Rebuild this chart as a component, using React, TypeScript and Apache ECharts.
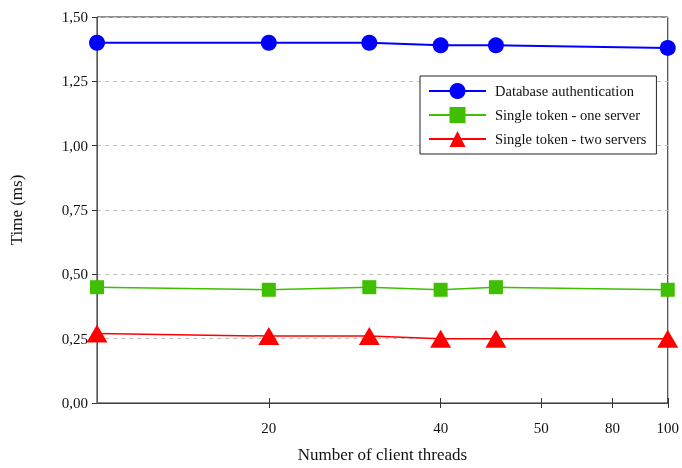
import React, { useEffect, useRef } from "react";
import * as echarts from "echarts";

const threads = [10, 20, 30, 40, 50, 100];
const dbAuth = [1.4, 1.4, 1.4, 1.39, 1.39, 1.38];
const oneServer = [0.45, 0.44, 0.45, 0.44, 0.45, 0.44];
const twoServers = [0.27, 0.26, 0.26, 0.25, 0.25, 0.25];
const xTickValues = [20, 40, 60, 80, 100];
const xTickLabels = ["20", "40", "50", "80", "100"];
const seriesNames = [
  "Database authentication",
  "Single token - one server",
  "Single token - two servers",
];

const FONT = "Liberation Serif";

export default function App() {
  const ref = useRef<HTMLDivElement>(null);
  useEffect(() => {
    const chart = echarts.init(ref.current!, null, {
      renderer: "svg",
      width: 682,
      height: 468,
    });
    const pair = (ys: number[]) => threads.map((x, i) => [x, ys[i]]);
    const baseX = {
      type: "log",
      logBase: 10,
      min: 10,
      max: 100,
      gridIndex: 0,
      position: "bottom",
      splitLine: { show: false },
      minorTick: { show: false },
    };
    chart.setOption({
      animation: false,
      textStyle: { fontFamily: FONT },
      grid: {
        left: 97,
        top: 17,
        width: 572,
        height: 399,
        show: true,
        borderColor: "#222",
        borderWidth: 1,
      },
      legend: {
        orient: "vertical",
        left: 420,
        top: 76,
        padding: [7, 10, 7, 8],
        borderColor: "#222",
        borderWidth: 1,
        backgroundColor: "#fff",
        itemWidth: 57,
        itemHeight: 20,
        itemGap: 8,
        textStyle: {
          fontFamily: FONT,
          fontSize: 14.5,
          color: "#111",
          padding: [0, 0, 0, 4],
        },
        data: seriesNames,
      },
      xAxis: [
        {
          ...baseX,
          name: "Number of client threads",
          nameLocation: "middle",
          nameGap: 43,
          nameTextStyle: { fontFamily: FONT, fontSize: 17, color: "#111" },
          axisLine: { show: true, lineStyle: { color: "#444", width: 1 } },
          axisTick: {
            show: true,
            customValues: xTickValues,
            length: 5,
            lineStyle: { color: "#333" },
          },
          axisLabel: {
            customValues: xTickValues,
            margin: 17,
            fontFamily: FONT,
            fontSize: 15,
            color: "#111",
            formatter: (v: number) => {
              const i = xTickValues.findIndex((t) => Math.abs(t - v) < 1e-6);
              return i >= 0 ? xTickLabels[i] : "";
            },
          },
        },
        {
          ...baseX,
          axisLine: { show: false },
          axisLabel: { show: false },
          axisTick: {
            show: true,
            inside: true,
            customValues: xTickValues,
            length: 5,
            lineStyle: { color: "#333" },
          },
        },
      ],
      yAxis: {
        type: "value",
        min: 0,
        max: 1.5,
        interval: 0.25,
        name: "Time (ms)",
        nameLocation: "middle",
        nameGap: 72,
        nameTextStyle: { fontFamily: FONT, fontSize: 17, color: "#111" },
        axisLine: { show: true, lineStyle: { color: "#555", width: 1 } },
        axisTick: { show: true, length: 5, lineStyle: { color: "#333" } },
        axisLabel: {
          margin: 9,
          fontFamily: FONT,
          fontSize: 15,
          color: "#111",
          formatter: (v: number) => v.toFixed(2).replace(".", ","),
        },
        splitLine: {
          show: true,
          lineStyle: { color: "#c4c4c4", type: [4, 4], width: 1 },
        },
      },
      series: [
        {
          name: seriesNames[0],
          type: "line",
          xAxisIndex: 0,
          data: pair(dbAuth),
          symbol: "circle",
          symbolSize: 16,
          itemStyle: { color: "#0000ff" },
          lineStyle: { color: "#0000ff", width: 2 },
          z: 4,
        },
        {
          name: seriesNames[1],
          type: "line",
          xAxisIndex: 0,
          data: pair(oneServer),
          symbol: "rect",
          symbolSize: 14,
          itemStyle: { color: "#3fbf00" },
          lineStyle: { color: "#3fbf00", width: 1.5 },
          z: 3,
        },
        {
          name: seriesNames[2],
          type: "line",
          xAxisIndex: 0,
          data: pair(twoServers),
          symbol: "triangle",
          symbolSize: [21, 18],
          itemStyle: { color: "#ff0000" },
          lineStyle: { color: "#ff0000", width: 1.5 },
          z: 2,
        },
      ],
    });
    return () => chart.dispose();
  }, []);
  return (
    <div
      ref={ref}
      style={{ position: "fixed", left: 0, top: 0, width: 682, height: 468 }}
    />
  );
}
